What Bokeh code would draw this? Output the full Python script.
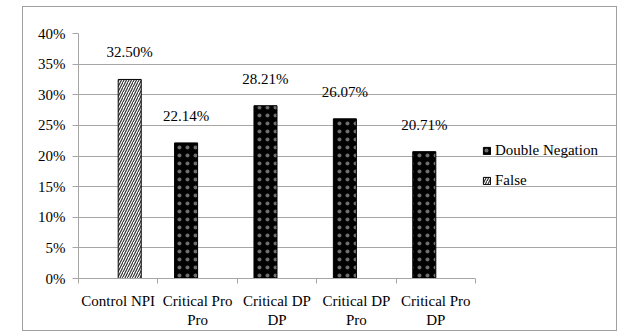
from bokeh.plotting import figure
from bokeh.models import (ColumnDataSource, Range1d, FixedTicker,
                          PrintfTickFormatter, Legend, LegendItem)
from bokeh.core.properties import value
from bokeh.embed import file_html
from bokeh.resources import INLINE

categories = ["Control NPI", "Critical Pro\nPro", "Critical DP\nDP", "Critical DP\nPro", "Critical Pro\nDP"]
dn_categories = ["Critical Pro\nPro", "Critical DP\nDP", "Critical DP\nPro", "Critical Pro\nDP"]
dn_values = [22.14, 28.21, 26.07, 20.71]
false_categories = ["Control NPI"]
false_values = [32.50]
y_ticks = [0, 5, 10, 15, 20, 25, 30, 35, 40]

FONT = "Liberation Serif"
GRAY = "#a6a6a6"
BW = 0.29
OFF = 0.145

# layout geometry (pixels)
EL_LEFT, EL_TOP, EL_W, EL_H = 23, 7, 593, 323
FRAME_LEFT, FRAME_TOP, CAT_RIGHT, FRAME_BOTTOM = 78, 33, 475, 282
FRAME_RIGHT = EL_LEFT + EL_W
N = len(categories)
X_MAX = N * (FRAME_RIGHT - FRAME_LEFT) / (CAT_RIGHT - FRAME_LEFT)

def pos(cats, off):
    return [categories.index(c) + 0.5 + off for c in cats]

dn_src = ColumnDataSource(dict(x=pos(dn_categories, -OFF), val=dn_values,
                               lab=[f"{v:.2f}%" for v in dn_values]))
f_src = ColumnDataSource(dict(x=pos(false_categories, OFF), val=false_values,
                              lab=[f"{v:.2f}%" for v in false_values]))

centers = [i + 0.5 for i in range(N)]
bounds = list(range(N + 1))

p = figure(width=EL_W, height=EL_H, output_backend="svg", toolbar_location=None,
           x_range=Range1d(0, X_MAX), y_range=Range1d(0, 40),
           min_border_left=FRAME_LEFT - EL_LEFT, min_border_right=0,
           min_border_top=FRAME_TOP - EL_TOP, min_border_bottom=EL_TOP + EL_H - FRAME_BOTTOM,
           margin=(EL_TOP, 0, 0, EL_LEFT),
           styles={"outline": "1px solid #a0a0a0"})
p.outline_line_color = None
p.background_fill_color = "white"
p.border_fill_color = "white"

# x axis: category labels at centres, tick marks at boundaries
p.xaxis.bounds = (0, N)
p.xaxis.ticker = FixedTicker(ticks=centers, minor_ticks=bounds)
p.xaxis.major_label_overrides = {c: lab for c, lab in zip(centers, categories)}
p.xaxis.axis_line_color = GRAY
p.xaxis.major_tick_line_color = None
p.xaxis.major_tick_out = 0
p.xaxis.major_tick_in = 0
p.xaxis.minor_tick_line_color = GRAY
p.xaxis.minor_tick_out = 5
p.xaxis.minor_tick_in = 0
p.xaxis.major_label_standoff = 9
p.xaxis.major_label_text_font = FONT
p.xaxis.major_label_text_font_size = "15px"
p.xaxis.major_label_text_color = "#000000"

# y axis
p.yaxis.ticker = FixedTicker(ticks=y_ticks)
p.yaxis.formatter = PrintfTickFormatter(format="%d%%")
p.yaxis.axis_line_color = GRAY
p.yaxis.major_tick_line_color = GRAY
p.yaxis.major_tick_out = 6
p.yaxis.major_tick_in = 0
p.yaxis.minor_tick_line_color = None
p.yaxis.major_label_text_font = FONT
p.yaxis.major_label_text_font_size = "15px"
p.yaxis.major_label_text_color = "#000000"
p.yaxis.major_label_standoff = 7

p.ygrid.ticker = FixedTicker(ticks=y_ticks)
p.ygrid.grid_line_color = GRAY
p.ygrid.bounds = (0, N)
p.xgrid.grid_line_color = None

r_dn = p.vbar(x="x", top="val", width=BW, source=dn_src,
              fill_color="black", line_color="black", hatch_pattern="dot",
              hatch_color="#c8c8c8", hatch_alpha=0.55, hatch_scale=8, hatch_weight=0.5)
r_f = p.vbar(x="x", top="val", width=BW, source=f_src,
             fill_color="white", line_color="black", line_width=1,
             hatch_pattern="right_diagonal_line", hatch_color="#333333", hatch_scale=5, hatch_weight=1.2)

for src in (dn_src, f_src):
    p.text(x="x", y="val", text="lab", source=src,
           text_font=value(FONT), text_font_size="15px", text_align="center",
           text_baseline="middle", y_offset=-27, text_color="#000000")

legend = Legend(items=[LegendItem(label="Double Negation", renderers=[r_dn]),
                       LegendItem(label="False", renderers=[r_f])],
                location=(482 - FRAME_LEFT, FRAME_BOTTOM - 194), padding=0, margin=0, spacing=10,
                glyph_width=9, glyph_height=9, label_height=20, label_standoff=4,
                label_text_font=FONT, label_text_font_size="15px", label_text_color="#000000",
                background_fill_alpha=0, border_line_color=None)
p.add_layout(legend)

open("out.html", "w").write(file_html(p, INLINE))
